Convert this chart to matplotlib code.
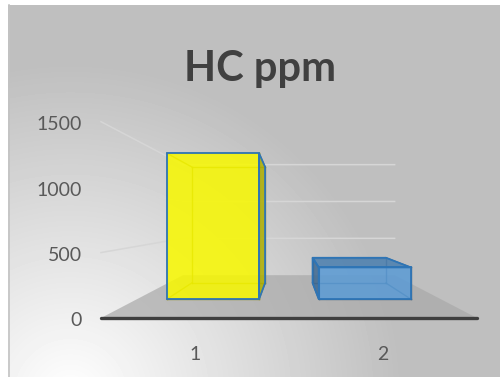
import numpy as np
import matplotlib
matplotlib.use("Agg")
import matplotlib.pyplot as plt
from matplotlib.patches import Polygon
from matplotlib.colors import to_rgb

# ── Data ─────────────────────────────────────────────────────────────────────
categories = ["1", "2"]
hc_ppm = [1380, 300]
y_ticks = [0, 500, 1000, 1500]
bar_colors = ["#f8f800", "#5b9bd5"]
title = "HC ppm"

# ── Simple one-point perspective (output pixels) ─────────────────────────────
W, H = 500, 377
VPX, VPY = 288.5, 220.0          # vanishing point
X0, XSTEP = 101.0, 188.0         # front plane: left edge, px per category
Y0, YSTEP = 318.0, 196.3 / 1500  # front plane: baseline, px per ppm
DEPTH = 0.776                    # back wall depth
BAR_W = 0.607
BAR_Z = (0.24, 0.555)


def proj(x, v, z):
    s = 1.0 / (1.0 + z)
    px = X0 + (x - 0.5) * XSTEP
    py = Y0 - v * YSTEP
    return VPX + (px - VPX) * s, VPY + (py - VPY) * s


def shade(c, f):
    r, g, b = to_rgb(c)
    return (r * f, g * f, b * f)


plt.rcParams["font.family"] = ["Lato", "DejaVu Sans"]

fig = plt.figure(figsize=(W / 100, H / 100), dpi=100)
ax = fig.add_axes([0, 0, 1, 1])
ax.axis("off")

# background: radial fade from the lower-left corner
yy, xx = np.mgrid[5:H, 8:W].astype(float)
t = np.clip(np.hypot(xx - 70, yy - 395) / 330.0, 0, 1)
bg = 255 - 64 * t
ax.imshow(bg, cmap="gray", vmin=0, vmax=255, extent=(8, W, H, 5),
          interpolation="bilinear", aspect="auto", zorder=0)
ax.plot([8.5, 8.5], [5, H], color="#c3c3c3", lw=1.2, zorder=1)
ax.set_xlim(0, W)
ax.set_ylim(H, 0)

# floor
floor = [proj(0.5, 0, 0), proj(2.5, 0, 0), proj(2.5, 0, DEPTH), proj(0.5, 0, DEPTH)]
ax.add_patch(Polygon(floor, closed=True, facecolor="#a9a9a9", alpha=0.7,
                     edgecolor="none", zorder=2))

# gridlines on left and back walls
for v in y_ticks[1:]:
    a = proj(0.5, v, 0)
    b = proj(0.5, v, DEPTH)
    c = proj(2.5, v, DEPTH)
    ax.plot([a[0], b[0], c[0]], [a[1], b[1], c[1]], color="#d6d6d6", lw=1.1,
            zorder=2)

# bars
zf, zb = BAR_Z
for i, (val, col) in enumerate(zip(hc_ppm, bar_colors)):
    xc = i + 1
    xs = (xc - BAR_W / 2, xc + BAR_W / 2)
    vs = (0, val)
    zs = (zf, zb)

    def P(ix, iv, iz):
        return proj(xs[ix], vs[iv], zs[iz])

    # hidden edges, seen faintly through the faces
    edges = []
    for iv in (0, 1):
        for iz in (0, 1):
            edges.append((P(0, iv, iz), P(1, iv, iz)))
    for ix in (0, 1):
        for iz in (0, 1):
            edges.append((P(ix, 0, iz), P(ix, 1, iz)))
    for ix in (0, 1):
        for iv in (0, 1):
            edges.append((P(ix, iv, 0), P(ix, iv, 1)))
    for p, q in edges:
        ax.plot([p[0], q[0]], [p[1], q[1]], color=shade(col, 0.55), lw=1.0,
                alpha=0.8, zorder=3)

    faces = [([P(0, 0, 0), P(1, 0, 0), P(1, 1, 0), P(0, 1, 0)], 1.0)]
    front_l = X0 + (xs[0] - 0.5) * XSTEP
    front_r = X0 + (xs[1] - 0.5) * XSTEP
    if front_r < VPX:
        faces.append(([P(1, 0, 0), P(1, 0, 1), P(1, 1, 1), P(1, 1, 0)], 0.7))
    if front_l > VPX:
        faces.append(([P(0, 0, 0), P(0, 0, 1), P(0, 1, 1), P(0, 1, 0)], 0.68))
    if Y0 - val * YSTEP > VPY:
        faces.append(([P(0, 1, 0), P(1, 1, 0), P(1, 1, 1), P(0, 1, 1)], 0.82))
    for pts, f in faces:
        ax.add_patch(Polygon(pts, closed=True, facecolor=shade(col, f),
                             alpha=0.86, edgecolor="none", zorder=4))
        ax.add_patch(Polygon(pts, closed=True, facecolor="none",
                             edgecolor="#2e75b6", lw=1.3, zorder=5))

# horizontal axis line
a = proj(0.5, 0, 0)
b = proj(2.5, 0, 0)
ax.plot([a[0], b[0]], [a[1], b[1]], color="#3f3f3f", lw=2.4,
        solid_capstyle="round", zorder=6)

# tick labels
for v in y_ticks:
    ax.text(82, proj(0.5, v, 0)[1] + 3, f"{v}", ha="right", va="center",
            fontsize=14, color="#595959", zorder=7)
for i, cat in enumerate(categories):
    ax.text(proj(i + 1, 0, 0)[0], 355, cat, ha="center", va="center",
            fontsize=14, color="#595959", zorder=7)

ax.text(260, 80.5, title, ha="center", va="baseline", fontsize=30,
        fontweight="bold", color="#404040", zorder=7)

fig.savefig("out.png", dpi=100, facecolor="white")
plt.close(fig)
